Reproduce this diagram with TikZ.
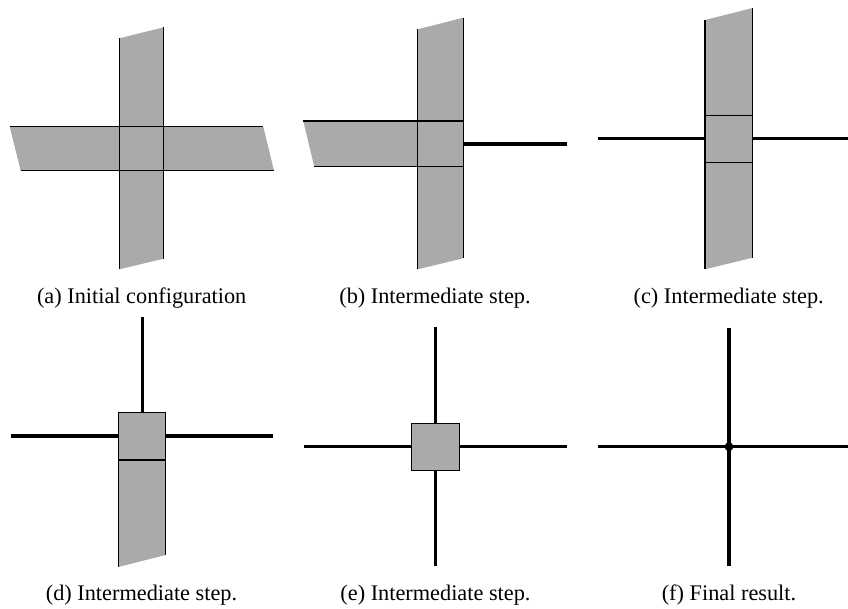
\documentclass[tikz,border=0pt]{standalone}
\usepackage{fontspec}
\setmainfont{Liberation Serif}
\definecolor{stripgray}{RGB}{170,170,170}
\begin{document}
\begin{tikzpicture}[x=0.5pt,y=-0.5pt,
  edge/.style={draw=black,line width=0.55pt},
  wire/.style={draw=black,line width=1.6pt},
  captext/.style={anchor=base,font=\fontsize{11.15}{13}\selectfont,inner sep=0pt}]
\useasboundingbox (0,0) rectangle (848,609);
% ---------- (a)
\fill[stripgray] (119.3,38.3) -- (163.7,27.3) -- (163.7,258.7) -- (119.3,269.3) -- cycle;
\fill[stripgray] (9.7,126.7) -- (263.3,126.7) -- (274,170.7) -- (20.7,170.7) -- cycle;
\draw[edge] (119.3,38.3) -- (119.3,269.3);
\draw[edge] (163.7,27.3) -- (163.7,258.7);
\draw[edge] (9.7,126.7) -- (263.3,126.7);
\draw[edge] (20.7,170.7) -- (274,170.7);
\node[captext] (capa) at (141.7,304) {(a) Initial configuration};
% ---------- (b)
\fill[stripgray] (417.7,29.3) -- (463.3,17.7) -- (463.3,258.3) -- (417.7,269.3) -- cycle;
\fill[stripgray] (303.3,121) -- (463.3,121) -- (463.3,166.7) -- (314.3,166.7) -- cycle;
\draw[edge] (417.7,29.3) -- (417.7,269.3);
\draw[edge] (463.3,17.7) -- (463.3,258.3);
\draw[edge] (303.3,121) -- (463.3,121);
\draw[edge] (314.3,166.7) -- (463.3,166.7);
\draw[wire] (463.3,144) -- (566.7,144);
\node[captext] (capb) at (435,304) {(b) Intermediate step.};
% ---------- (c)
\fill[stripgray] (705,20) -- (752.7,8) -- (752.7,257.7) -- (705,269.3) -- cycle;
\draw[edge] (705,20) -- (705,269.3);
\draw[edge] (752.7,8) -- (752.7,257.7);
\draw[edge] (705,115.3) -- (752.7,115.3);
\draw[edge] (705,162.7) -- (752.7,162.7);
\draw[wire] (598.3,138.7) -- (705,138.7);
\draw[wire] (752.7,138.7) -- (847.7,138.7);
\node[captext] (capc) at (728.7,304) {(c) Intermediate step.};
% ---------- (d)
\fill[stripgray] (118.3,412.3) -- (165.7,412.3) -- (165.7,555) -- (118.3,567) -- cycle;
\draw[edge] (118.3,567) -- (118.3,412.3) -- (165.7,412.3) -- (165.7,555);
\draw[edge] (118.3,460) -- (165.7,460);
\draw[wire] (142.3,317.3) -- (142.3,412.3);
\draw[wire] (11,436) -- (118.3,436);
\draw[wire] (165.7,436) -- (273.3,436);
\node[captext] (capd) at (141.5,601) {(d) Intermediate step.};
% ---------- (e)
\filldraw[fill=stripgray,edge] (411.3,423.3) rectangle (459.7,470.7);
\draw[wire] (435.3,327.3) -- (435.3,423.3);
\draw[wire] (435.3,470.7) -- (435.3,566);
\draw[wire] (304.3,446.3) -- (411.3,446.3);
\draw[wire] (459.7,446.3) -- (566.7,446.3);
\node[captext] (cape) at (435.5,601) {(e) Intermediate step.};
% ---------- (f)
\coordinate (fc) at (729,446.7);
\draw[wire] (729,327.7) -- (729,566);
\draw[wire] (598.3,446.7) -- (847.7,446.7);
\fill (fc) circle (2.2pt);
\node[captext] (capf) at (729,601) {(f) Final result.};
\end{tikzpicture}
\end{document}
